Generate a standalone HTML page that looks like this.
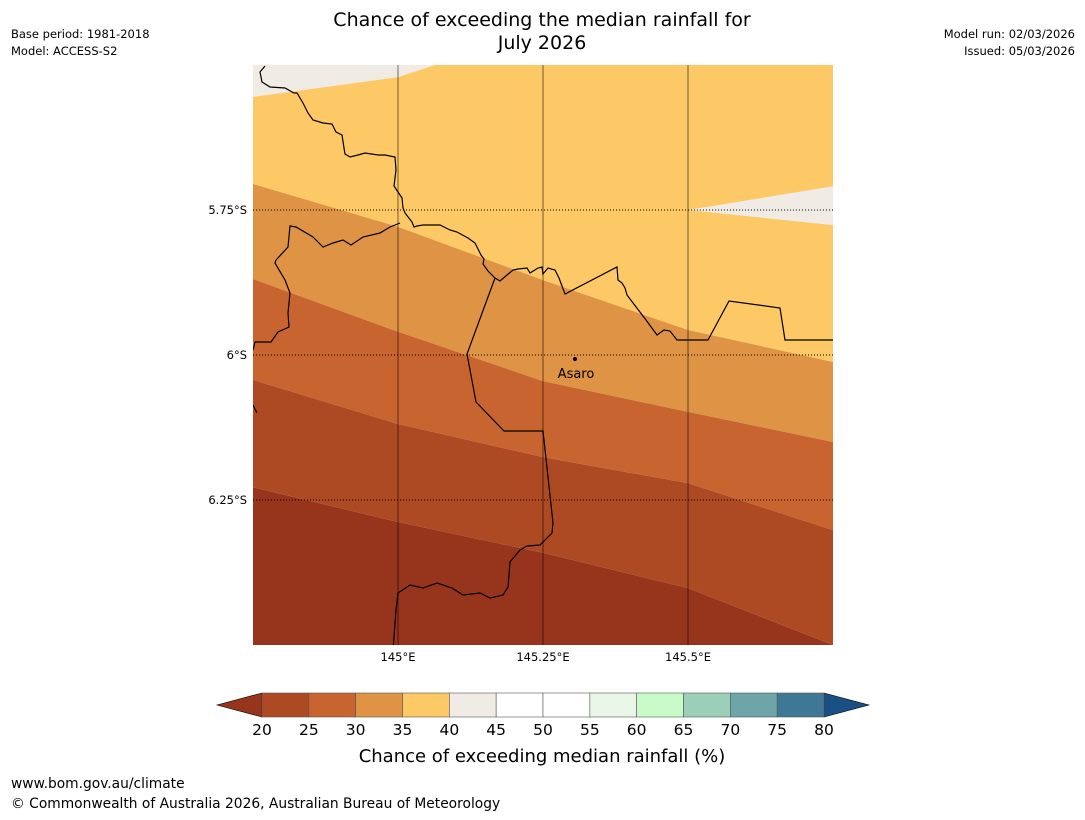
<!DOCTYPE html>
<html><head><meta charset="utf-8"><style>
body{margin:0;background:#fff;width:1085px;height:816px;overflow:hidden;font-family:"DejaVu Sans","Liberation Sans",sans-serif;}
</style></head><body>
<svg id="c" width="1085" height="816" xmlns="http://www.w3.org/2000/svg" font-family="DejaVu Sans, Liberation Sans, sans-serif">
<text x="542" y="26" text-anchor="middle" font-size="19">Chance of exceeding the median rainfall for</text>
<text x="542" y="49" text-anchor="middle" font-size="19">July 2026</text>
<text x="11" y="38" font-size="11.5">Base period: 1981-2018</text>
<text x="11" y="55" font-size="11.5">Model: ACCESS-S2</text>
<text x="1075" y="38" font-size="11.5" text-anchor="end">Model run: 02/03/2026</text>
<text x="1075" y="55" font-size="11.5" text-anchor="end">Issued: 05/03/2026</text>
<defs><clipPath id="mc"><rect x="253" y="65" width="580" height="580"/></clipPath></defs>
<g id="map" clip-path="url(#mc)"></g>
<g id="geo" clip-path="url(#mc)" fill="none" stroke="#000" stroke-width="1.2">
<polyline points="265,66 260,72 262,82 270,87 285,88 294,93 297,93 303,103 308,113 313,120 323,123 332,124 336,132 342,135 344,148 345,154 350,157 358,155 365,153 378,155 385,155 395,157 396,170 394,186 398,192 402,198 403,208 405,213 412,222 414,227 417,226 423,225 440,225 450,230 457,232 468,238 475,243 481,255 484,259 483,264 488,271 495,278 500,281 507,275 513,270 518,269 527,268 530,273 538,268 542,267 543,274 548,268 555,270 559,278 565,294 617,267 618,280 622,283 625,288 627,295 646,320 657,335 664,330 670,331 677,340 708,340 729,301 780,308 785,340 840,340"/>
<polyline points="495,278 467,354 476,402 504,431 543,431 553,523 552,533 540,545 527,546 520,550 510,562 508,587 503,595 490,598 480,593 463,595 452,588 437,583 423,588 410,585 398,593 396,610 393,650"/>
<polyline points="400,223 390,227 380,233 363,237 351,245 343,240 333,243 323,247 313,237 296,227 290,226 288,247 276,260 275,263 285,280 290,293 288,313 289,327 278,332 271,342 255,342 253,350"/>
<polyline points="253,405 257,413"/>
</g>
<g id="grid"></g>
<circle cx="575" cy="359" r="2" fill="#000"/>
<text x="576" y="378" font-size="13" text-anchor="middle">Asaro</text>
<g id="cbar"></g>
<text x="542" y="762" font-size="18" text-anchor="middle">Chance of exceeding median rainfall (%)</text>
<text x="11" y="788" font-size="13.8">www.bom.gov.au/climate</text>
<text x="11" y="808" font-size="13.8">© Commonwealth of Australia 2026, Australian Bureau of Meteorology</text>
</svg>
<script>
const NS="http://www.w3.org/2000/svg";
// contour boundaries (lon, lat pairs); bands listed from top to bottom
const bandColors=["#f0ebe4","#fdc966","#df9344","#c8642f","#ae4a23","#97341c"];
const lonPts=[144.75,145,145.25,145.5,145.75];
const b40=[-5.555,-5.521,-5.49,-5.49,-5.49];
const b35=[-5.705,-5.779,-5.871,-5.957,-6.012];
const b30=[-5.869,-5.960,-6.045,-6.098,-6.150];
const b25=[-6.043,-6.119,-6.176,-6.221,-6.302];
const b20=[-6.228,-6.288,-6.341,-6.402,-6.5];
const wedgeLon=[145.5,145.75,145.75];
const wedgeLat=[-5.750,-5.709,-5.776];
const lonTicks=[145,145.25,145.5];
const lonTickLabels=["145°E","145.25°E","145.5°E"];
const latTicks=[-5.75,-6,-6.25];
const latTickLabels=["5.75°S","6°S","6.25°S"];
const cbarLevels=[20,25,30,35,40,45,50,55,60,65,70,75,80];
const cbarColors=["#ae4a23","#c8642f","#df9344","#fdc966","#f0ebe4","#ffffff","#ffffff","#e9f5e6","#c8fbc8","#9ccfb8","#6ea5a8","#3f7896"];
const cbarLow="#97341c", cbarHigh="#1a4f86";

const xs=lon=>253+(lon-144.75)*580;
const ys=lat=>65+(-5.5-lat)*580;
const mapG=document.getElementById('map');
function mk(tag,attrs,parent){const e=document.createElementNS(NS,tag);for(const k in attrs)e.setAttribute(k,attrs[k]);parent.appendChild(e);return e;}
const topEdge=[-5.4,-5.4,-5.4,-5.4,-5.4], botEdge=[-6.6,-6.6,-6.6,-6.6,-6.6];
const bounds=[topEdge,b40,b35,b30,b25,b20,botEdge];
const greyEdge=[[144.75,-5.555],[145,-5.521],[145.064,-5.5],[145.8,-5.45]];
for(let i=0;i<6;i++){
  let upper=bounds[i].map((v,j)=>[lonPts[j],v]);
  let lower=bounds[i+1].map((v,j)=>[lonPts[j],v]);
  if(i===0)lower=greyEdge;
  if(i===1)upper=greyEdge;
  const pts=upper.map(p=>[xs(p[0]),ys(p[1])]).concat(lower.slice().reverse().map(p=>[xs(p[0]),ys(p[1])]));
  const p=mk('polygon',{points:pts.map(q=>q.join(',')).join(' '),fill:bandColors[i]},mapG);
  
  
}
const w=mk('polygon',{points:wedgeLon.map((l,j)=>xs(l)+','+ys(wedgeLat[j])).join(' '),fill:bandColors[0]},mapG);



const grid=document.getElementById('grid');
lonTicks.forEach((l,i)=>{
  const ln=mk('line',{x1:xs(l),x2:xs(l),y1:65,y2:645,stroke:'#000','stroke-opacity':0.45,'stroke-width':1.2},grid);
  
  
  const t=mk('text',{x:xs(l),y:661,'font-size':11.5,'text-anchor':'middle'},grid);
  t.textContent=lonTickLabels[i];
  
  
});
latTicks.forEach((l,i)=>{
  const ln=mk('line',{x1:253,x2:833,y1:ys(l),y2:ys(l),stroke:'#000','stroke-width':1,'stroke-dasharray':'1,2'},grid);
  
  
  const t=mk('text',{x:247,y:ys(l)+4,'font-size':11.5,'text-anchor':'end'},grid);
  t.textContent=latTickLabels[i];
  
  
});

const cb=document.getElementById('cbar');
const cx0=262,cx1=824,cy0=693,cy1=717;
const cw=(cx1-cx0)/cbarColors.length;
const lt=mk('polygon',{points:`${cx0},${cy0} 217,${(cy0+cy1)/2} ${cx0},${cy1}`,fill:cbarLow,stroke:'#000','stroke-width':0.6},cb);


const rt=mk('polygon',{points:`${cx1},${cy0} 869,${(cy0+cy1)/2} ${cx1},${cy1}`,fill:cbarHigh,stroke:'#000','stroke-width':0.6},cb);


cbarColors.forEach((c,i)=>{
  const r=mk('rect',{x:cx0+i*cw,y:cy0,width:cw,height:cy1-cy0,fill:c,stroke:'#555','stroke-width':0.6},cb);
  
  
});
cbarLevels.forEach((v,i)=>{
  const t=mk('text',{x:cx0+i*cw,y:735,'font-size':15.5,'text-anchor':'middle'},cb);
  t.textContent=v;
  
  
});
</script>
</body></html>
